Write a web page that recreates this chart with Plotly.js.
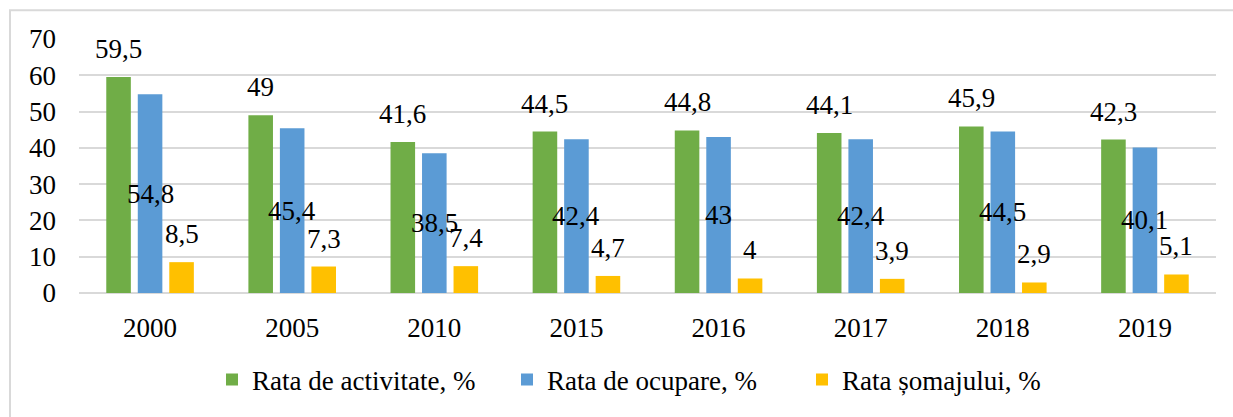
<!DOCTYPE html>
<html>
<head>
<meta charset="utf-8">
<script src="https://cdn.plot.ly/plotly-3.0.1.min.js"></script>
<style>
html,body{margin:0;padding:0;background:#fff;}
#chart{width:1233px;height:417px;}
</style>
</head>
<body>
<div id="chart"></div>
<script>
const years = ['2000','2005','2010','2015','2016','2017','2018','2019'];
const activitate = [59.5, 49, 41.6, 44.5, 44.8, 44.1, 45.9, 42.3];
const ocupare = [54.8, 45.4, 38.5, 42.4, 43, 42.4, 44.5, 40.1];
const somaj = [8.5, 7.3, 7.4, 4.7, 4, 3.9, 2.9, 5.1];
const seriesNames = ['Rata de activitate, %', 'Rata de ocupare, %', 'Rata șomajului, %'];
const colors = ['#70AD47', '#5B9BD5', '#FFC000'];

const FONT = 'Liberation Serif';
const FS = 27;

const allSeries = [activitate, ocupare, somaj];
const traces = allSeries.map((vals, i) => ({
  type: 'bar',
  name: seriesNames[i],
  x: years,
  y: vals,
  marker: {color: colors[i], line: {width: 0}},
  hoverinfo: 'skip'
}));

const fmt = v => String(v).replace('.', ',');
const slot = 31.5;
const annotations = [];
allSeries.forEach((vals, i) => {
  vals.forEach((v, j) => {
    const mid = (i === 1);
    annotations.push({
      x: j,
      y: mid ? v / 2 : v,
      xref: 'x', yref: 'y',
      xshift: (i - 1) * slot,
      yshift: mid ? 0 : 11,
      yanchor: mid ? 'middle' : 'bottom',
      text: fmt(v),
      showarrow: false,
      font: {family: FONT, size: FS, color: '#000'}
    });
  });
});

const L = 79, R = 17, T = 39, B = 121;
const pw = 1233 - L - R, ph = 417 - T - B;
const px = x => (x - L) / pw;
const py = y => (417 - B - y) / ph;

const layout = {
  width: 1233, height: 417,
  margin: {l: L, r: R, t: T, b: B, pad: 0},
  paper_bgcolor: '#fff', plot_bgcolor: '#fff',
  font: {family: FONT, size: FS, color: '#000'},
  barmode: 'group',
  bargap: 0.335,
  bargroupgap: 0.22,
  showlegend: true,
  legend: {
    orientation: 'h',
    x: px(212), xanchor: 'left',
    y: py(384), yanchor: 'middle',
    font: {family: FONT, size: FS, color: '#000'},
    itemwidth: 30,
    entrywidth: 250,
    entrywidthmode: 'pixels',
    traceorder: 'normal',
    bgcolor: 'rgba(0,0,0,0)'
  },
  xaxis: {
    type: 'category',
    categoryorder: 'array',
    categoryarray: years,
    range: [-0.5, years.length - 0.5],
    autorange: false,
    showgrid: false,
    showline: false,
    zeroline: false,
    ticks: '',
    ticklabelstandoff: 16,
    tickfont: {family: FONT, size: FS, color: '#000'},
    fixedrange: true
  },
  yaxis: {
    range: [0, 70],
    autorange: false,
    dtick: 10,
    tick0: 0,
    showgrid: true,
    gridcolor: '#d9d9d9',
    gridwidth: 2,
    zeroline: true,
    zerolinecolor: '#d9d9d9',
    zerolinewidth: 2,
    showline: false,
    ticks: '',
    ticklabelstandoff: 22,
    tickfont: {family: FONT, size: FS, color: '#000'},
    fixedrange: true
  },
  annotations: annotations,
  shapes: [{
    type: 'rect', xref: 'paper', yref: 'paper',
    x0: px(10), x1: px(1245), y0: py(430), y1: py(10),
    line: {color: '#d9d9d9', width: 2},
    fillcolor: 'rgba(0,0,0,0)',
    layer: 'below'
  }]
};

Plotly.newPlot('chart', traces, layout, {displayModeBar: false, staticPlot: true});
</script>
</body>
</html>
